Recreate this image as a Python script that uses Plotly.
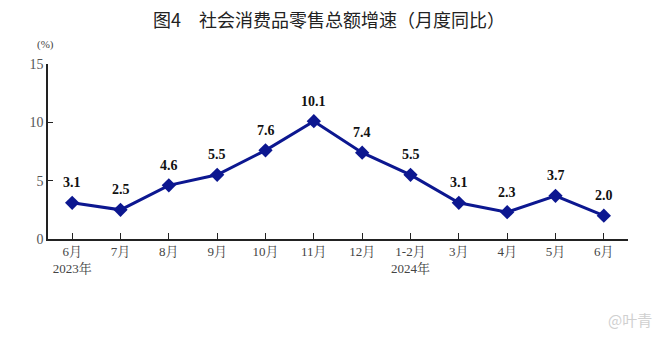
import plotly.graph_objects as go

# Month labels (two-line labels mark the year)
months = ["6月<br>2023年", "7月", "8月", "9月", "10月", "11月", "12月",
          "1-2月<br>2024年", "3月", "4月", "5月", "6月"]
growth = [3.1, 2.5, 4.6, 5.5, 7.6, 10.1, 7.4, 5.5, 3.1, 2.3, 3.7, 2.0]
y_ticks = [0, 5, 10, 15]

serif = "Liberation Serif, Times New Roman, Noto Serif CJK SC, Noto Sans CJK SC, serif"
line_color = "#0c1790"

x_idx = list(range(len(months)))

fig = go.Figure()
fig.add_trace(go.Scatter(
    x=x_idx, y=growth, mode="lines+markers",
    line=dict(color=line_color, width=3),
    marker=dict(symbol="diamond", size=11, color=line_color),
    hoverinfo="skip", showlegend=False,
))

for xi, v in zip(x_idx, growth):
    fig.add_annotation(
        x=xi, y=v, text=f"<b>{v:.1f}</b>", showarrow=False,
        yshift=20, font=dict(family=serif, size=14, color="#111"),
    )

fig.add_annotation(
    xref="paper", yref="paper", x=-0.005, y=1.11, xanchor="center", yanchor="middle",
    text="(%)", showarrow=False, font=dict(family=serif, size=11, color="#444"),
)
fig.add_annotation(
    xref="paper", yref="paper", x=0.485, y=1.255, xanchor="center", yanchor="middle",
    text="图4　社会消费品零售总额增速（月度同比）", showarrow=False,
    font=dict(family="Noto Sans CJK SC, sans-serif", size=18, color="#222"),
)
fig.add_annotation(
    xref="paper", yref="paper", x=1.045, y=-0.46, xanchor="right", yanchor="middle",
    text="@叶青", showarrow=False,
    font=dict(family="Noto Sans CJK SC, sans-serif", size=15, color="#d0d0d0"),
)

fig.update_layout(
    width=661, height=337,
    margin=dict(l=48, r=33, t=64, b=98),
    paper_bgcolor="white", plot_bgcolor="white",
    xaxis=dict(
        tickmode="array", tickvals=x_idx, ticktext=months,
        range=[-0.5, len(months) - 0.5],
        showgrid=False, zeroline=False,
        showline=True, linecolor="#222", linewidth=1.5,
        ticks="inside", tickson="boundaries", ticklen=6, tickcolor="#222",
        tickfont=dict(family=serif, size=13, color="#444"),
    ),
    yaxis=dict(
        range=[0, 15], tickvals=y_ticks,
        showgrid=False, zeroline=False,
        showline=True, linecolor="#222", linewidth=1.5,
        ticks="inside", ticklen=5, tickcolor="#222",
        tickfont=dict(family=serif, size=14, color="#555"),
    ),
)

fig.write_html("out.html")
